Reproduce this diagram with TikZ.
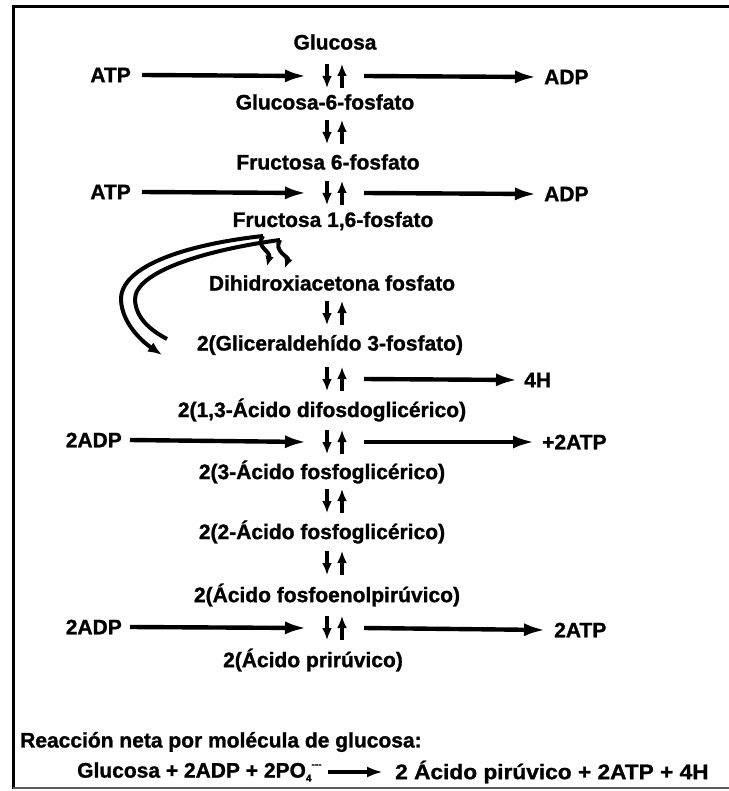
\documentclass[tikz,border=0pt]{standalone}
\usepackage{fontspec}
\setmainfont{Liberation Sans}[BoldFeatures={FakeBold=1.2}]
\usetikzlibrary{arrows.meta}
\newcommand\dblarr[1]{%
  \draw[darr] ([shift={(-8,-12)}]#1) -- ([shift={(-8,12)}]#1);
  \draw[darr] ([shift={(7,12)}]#1) -- ([shift={(7,-12)}]#1);}
\begin{document}
\begin{tikzpicture}[x=1pt,y=-1pt,
  lbl/.style={font=\bfseries\fontsize{21}{23}\selectfont, inner sep=0pt},
  harrow/.style={line width=4.4pt, -{Latex[length=22pt,width=13pt]}},
  darr/.style={line width=4pt, -{Latex[length=12pt,width=10pt]}},
  curv/.style={line width=4pt}]
\useasboundingbox (0,0) rectangle (728,791);
% frame
\draw[line width=3pt] (13,789) -- (13,7) -- (730,7);
\draw[line width=2pt, black!65] (13,788) -- (730,788);

% main column
\node[lbl] (glu) at (335,42) {Glucosa};
\node[lbl] (g6p) at (325,102) {Glucosa-6-fosfato};
\node[lbl] (f6p) at (328,162) {Fructosa 6-fosfato};
\node[lbl] (f16) at (333,221) {Fructosa 1,6-fosfato};
\node[lbl] (dha) at (332,283) {Dihidroxiacetona fosfato};
\node[lbl] (gap) at (330,345) {2(Gliceraldehído 3-fosfato)};
\node[lbl] (bpg) at (322,410) {2(1,3-Ácido difosdoglicérico)};
\node[lbl] (pg3) at (322,472) {2(3-Ácido fosfoglicérico)};
\node[lbl] (pg2) at (322,532) {2(2-Ácido fosfoglicérico)};
\node[lbl] (pep) at (327,595) {2(Ácido fosfoenolpirúvico)};
\node[lbl] (pyr) at (313,660) {2(Ácido prirúvico)};

% row coordinates (double arrows)
\coordinate (r1) at (335,76);
\coordinate (r2) at (335,132);
\coordinate (r3) at (335,193);
\coordinate (r5) at (335,313);
\coordinate (r6) at (335,379);
\coordinate (r7) at (335,442);
\coordinate (r8) at (335,501);
\coordinate (r9) at (335,563);
\coordinate (r10) at (335,628);
\dblarr{r1}\dblarr{r2}\dblarr{r3}\dblarr{r5}\dblarr{r6}\dblarr{r7}\dblarr{r8}\dblarr{r9}\dblarr{r10}

% side labels
\node[lbl, anchor=east] (atp1) at (131,75) {ATP};
\node[lbl, anchor=west] (adp1) at (544,77) {ADP};
\node[lbl, anchor=east] (atp2) at (131,192) {ATP};
\node[lbl, anchor=west] (adp2) at (544,194) {ADP};
\node[lbl, anchor=west] (h4) at (524,380) {4H};
\node[lbl, anchor=east] (adp3) at (122,440) {2ADP};
\node[lbl, anchor=west] (atp3) at (542,442) {+2ATP};
\node[lbl, anchor=east] (adp4) at (122,627) {2ADP};
\node[lbl, anchor=west] (atp4) at (554,630) {2ATP};

% horizontal arrows
\draw[harrow] ([xshift=11pt]atp1.east) -- ([xshift=-28]r1);
\draw[harrow] ([xshift=29]r1) -- ([xshift=-7pt]adp1.west);
\draw[harrow] ([xshift=11pt]atp2.east) -- ([xshift=-28]r3);
\draw[harrow] ([xshift=29]r3) -- ([xshift=-7pt]adp2.west);
\draw[harrow] ([xshift=29]r6) -- ([xshift=-6pt]h4.west);
\draw[harrow] ([xshift=8pt]adp3.east) -- ([xshift=-28]r7);
\draw[harrow] ([xshift=29]r7) -- ([xshift=-7pt]atp3.west);
\draw[harrow] ([xshift=8pt]adp4.east) -- ([xshift=-28]r10);
\draw[harrow] ([xshift=29]r10) -- ([xshift=-8pt]atp4.west);

% split of fructosa 1,6-fosfato
\coordinate (s1) at (263,236);
\coordinate (s2) at (280,240);
\coordinate (e1) at (162,355);
\coordinate (e2) at (167,339);
\coordinate (h1) at (267,266);
\coordinate (h2) at (285,268);
\draw[curv, -{Latex[length=14pt,width=11pt]}] (s1) .. controls (190,244) and (120,265) .. (121,300) .. controls (122,322) and (140,340) .. (e1);
\draw[curv] (s2) .. controls (205,250) and (134,272) .. (135,300) .. controls (136,318) and (150,330) .. (e2);
\draw[curv, -{Latex[length=10pt,width=9pt]}] (s1) .. controls (255,247) and (271,251) .. (h1);
\draw[curv, -{Latex[length=10pt,width=9pt]}] (s2) .. controls (273,251) and (289,257) .. (h2);

% net reaction
\node[lbl, anchor=west] (net) at (20,742) {Reacción neta por molécula de glucosa:};
\node[lbl, anchor=west] (eql) at (77,772) {Glucosa + 2ADP + 2PO\raisebox{-4pt}{\fontsize{10}{10}\selectfont 4}\raisebox{10pt}{\fontsize{10}{10}\selectfont -{}-{}-}};
\node[lbl, anchor=west, xscale=1.08] (eqr) at (395,772) {2 Ácido pirúvico + 2ATP + 4H};
\draw[line width=4pt, -{Latex[length=16pt,width=11pt]}] ([xshift=6pt]eql.east) -- ([xshift=-12pt]eqr.west);
\end{tikzpicture}
\end{document}
